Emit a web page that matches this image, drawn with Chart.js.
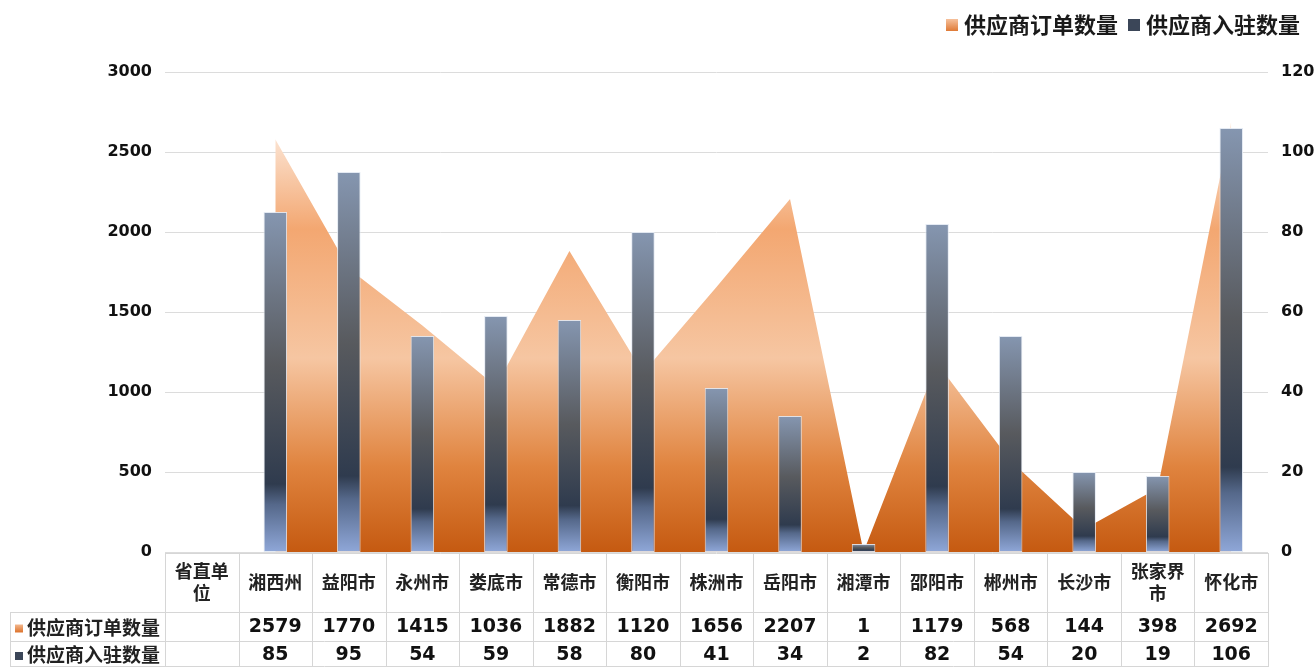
<!DOCTYPE html>
<html>
<head>
<meta charset="utf-8">
<script src="https://cdn.jsdelivr.net/npm/chart.js@4"></script>
<style>
  html, body { margin: 0; padding: 0; background: #fff; }
  #wrap { width: 1314px; height: 667px; }
</style>
</head>
<body>
<div id="wrap"><canvas id="supplier-chart"></canvas></div>
<script>
// Data
const categories = ['省直单位', '湘西州', '益阳市', '永州市', '娄底市', '常德市', '衡阳市', '株洲市', '岳阳市', '湘潭市', '邵阳市', '郴州市', '长沙市', '张家界市', '怀化市'];
const order_amount = [null, 2579, 1770, 1415, 1036, 1882, 1120, 1656, 2207, 1, 1179, 568, 144, 398, 2692];
const supplier_amount = [null, 85, 95, 54, 59, 58, 80, 41, 34, 2, 82, 54, 20, 19, 106];
const left_ticks = [0, 500, 1000, 1500, 2000, 2500, 3000];
const right_ticks = [0, 20, 40, 60, 80, 100, 120];
const series_names = ['供应商订单数量', '供应商入驻数量'];

const cjk_font = '"Noto Sans CJK SC", "Noto Sans", sans-serif';
const num_font = '"DejaVu Sans", "Noto Sans CJK SC", sans-serif';

// area gradient, spans the whole plot height
function areaGradient(context) {
    const chart = context.chart;
    const area = chart.chartArea;
    if (!area) return '#f4b183';
    const top = chart.scales.y.getPixelForValue(2692);
    const g = chart.ctx.createLinearGradient(0, top, 0, area.bottom);
    g.addColorStop(0, '#fdeee3');
    g.addColorStop(0.25, '#f3a771');
    g.addColorStop(0.55, '#f6c6a2');
    g.addColorStop(0.8, '#e0843f');
    g.addColorStop(1, '#c55a11');
    return g;
}

// each bar gets its own gradient from its top to the base
function barGradient(context) {
    const chart = context.chart;
    const v = context.raw;
    if (!chart.chartArea || v == null) return '#44546a';
    const y1 = chart.scales.y1;
    const top = y1.getPixelForValue(v);
    const base = y1.getPixelForValue(0);
    if (base - top < 1) return '#44546a';
    const g = chart.ctx.createLinearGradient(0, top, 0, base);
    g.addColorStop(0, '#8596b0');
    g.addColorStop(0.45, '#585a5e');
    g.addColorStop(0.8, '#2f3b4e');
    g.addColorStop(0.86, '#55688a');
    g.addColorStop(1, '#8fa7d8');
    return g;
}

// legend + data table drawn under the plot
const tablePlugin = {
    id: 'tablePlugin',
    afterDraw(chart) {
        const ctx = chart.ctx;
        const area = chart.chartArea;
        const n = categories.length;
        const col_w = (area.right - area.left) / n;
        const row_top = area.bottom + 1;
        const row1 = 612, row2 = 641, row3 = 667;
        ctx.save();

        // legend
        ctx.font = 'bold 22px ' + cjk_font;
        ctx.textBaseline = 'middle';
        ctx.textAlign = 'left';
        const w1 = ctx.measureText(series_names[0]).width;
        const w2 = ctx.measureText(series_names[1]).width;
        let lx = 1300 - w2 - 18 - 10 - w1 - 18;
        const ly = 25;
        let lg = ctx.createLinearGradient(0, ly - 6, 0, ly + 6);
        lg.addColorStop(0, '#f6c19c');
        lg.addColorStop(1, '#df7a36');
        ctx.fillStyle = lg;
        ctx.fillRect(lx, ly - 6, 12, 12);
        ctx.fillStyle = '#1a1a1a';
        ctx.fillText(series_names[0], lx + 18, ly);
        lx += 18 + w1 + 10;
        ctx.fillStyle = '#3b4658';
        ctx.fillRect(lx, ly - 6, 12, 12);
        ctx.fillStyle = '#1a1a1a';
        ctx.fillText(series_names[1], lx + 18, ly);

        // grid of the table
        ctx.strokeStyle = '#d6d6d6';
        ctx.lineWidth = 1;
        ctx.beginPath();
        ctx.moveTo(area.left, row_top + 0.5); ctx.lineTo(area.right, row_top + 0.5);
        ctx.moveTo(10, row1 + 0.5); ctx.lineTo(area.right, row1 + 0.5);
        ctx.moveTo(10, row2 + 0.5); ctx.lineTo(area.right, row2 + 0.5);
        ctx.moveTo(10, row3 - 0.5); ctx.lineTo(area.right, row3 - 0.5);
        ctx.moveTo(10.5, row1); ctx.lineTo(10.5, row3);
        for (let i = 0; i <= n; i++) {
            const x = Math.round(area.left + i * col_w) + 0.5;
            ctx.moveTo(x, row_top); ctx.lineTo(x, row3);
        }
        ctx.stroke();

        // header labels (wrap when too wide)
        ctx.font = 'bold 18px ' + cjk_font;
        ctx.fillStyle = '#222';
        ctx.textAlign = 'center';
        for (let i = 0; i < n; i++) {
            const cx = chart.scales.x.getPixelForValue(i);
            const label = categories[i];
            let lines = [label];
            if (ctx.measureText(label).width > col_w - 8) {
                lines = [label.slice(0, 3), label.slice(3)];
            }
            const mid = (row_top + row1) / 2;
            lines.forEach((t, k) => {
                ctx.fillText(t, cx, mid + (k - (lines.length - 1) / 2) * 22);
            });
        }

        // row headers
        ctx.textAlign = 'left';
        ctx.font = 'bold 19px ' + cjk_font;
        const rows = [[row1, row2, order_amount], [row2, row3, supplier_amount]];
        rows.forEach((r, k) => {
            const my = (r[0] + r[1]) / 2 + 1;
            if (k === 0) {
                const g = ctx.createLinearGradient(0, my - 4, 0, my + 4);
                g.addColorStop(0, '#f6c19c');
                g.addColorStop(1, '#df7a36');
                ctx.fillStyle = g;
            } else {
                ctx.fillStyle = '#3b4658';
            }
            ctx.fillRect(15, my - 3, 8, 8);
            ctx.fillStyle = '#222';
            ctx.fillText(series_names[k], 27, my);
        });

        // values
        ctx.font = 'bold 19px ' + num_font;
        ctx.textAlign = 'center';
        ctx.fillStyle = '#111';
        rows.forEach(r => {
            const my = (r[0] + r[1]) / 2 + 1;
            r[2].forEach((v, i) => {
                if (v == null) return;
                ctx.fillText(String(v), chart.scales.x.getPixelForValue(i), my);
            });
        });
        ctx.restore();
    }
};

const chart_el = document.getElementById('supplier-chart');

new Chart(chart_el, {
    type: 'bar',
    data: {
        labels: categories,
        datasets: [{
            type: 'line',
            label: series_names[0],
            data: order_amount,
            yAxisID: 'y',
            fill: 'origin',
            backgroundColor: areaGradient,
            borderWidth: 0,
            pointRadius: 0,
            tension: 0,
            order: 2
        }, {
            type: 'bar',
            label: series_names[1],
            data: supplier_amount,
            yAxisID: 'y1',
            backgroundColor: barGradient,
            borderColor: 'rgba(225,232,242,0.9)',
            borderWidth: 1,
            borderSkipped: false,
            barPercentage: 0.32,
            categoryPercentage: 1,
            order: 1
        }]
    },
    options: {
        responsive: true,
        maintainAspectRatio: false,
        animation: false,
        layout: { padding: { top: 72, bottom: 115, left: 0, right: 0 } },
        plugins: {
            legend: { display: false },
            tooltip: { enabled: false }
        },
        scales: {
            x: {
                display: false,
                offset: true
            },
            y: {
                position: 'left',
                min: 0,
                max: 3000,
                afterBuildTicks: s => { s.ticks = left_ticks.map(v => ({ value: v })); },
                afterFit: s => { s.width = 165; },
                border: { display: false },
                grid: { color: '#dcdcdc', drawTicks: false },
                ticks: {
                    padding: 13,
                    color: '#111',
                    font: { family: num_font, size: 16, weight: 'bold' },
                    callback: v => String(v)
                }
            },
            y1: {
                position: 'right',
                min: 0,
                max: 120,
                afterBuildTicks: s => { s.ticks = right_ticks.map(v => ({ value: v })); },
                afterFit: s => { s.width = 46; },
                border: { display: false },
                grid: { display: false, drawTicks: false },
                ticks: {
                    padding: 13,
                    color: '#111',
                    font: { family: num_font, size: 16, weight: 'bold' },
                    callback: v => String(v)
                }
            }
        }
    },
    plugins: [tablePlugin]
});
</script>
</body>
</html>
